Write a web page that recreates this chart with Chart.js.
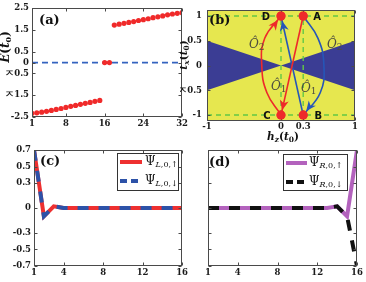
<!DOCTYPE html>
<html><head><meta charset="utf-8">
<script src="https://cdn.jsdelivr.net/npm/chart.js@4"></script>
<style>
html,body{margin:0;padding:0;background:#fff;}
#wrap{position:relative;width:366px;height:282px;overflow:hidden;background:#fff;}
canvas{position:absolute;}
</style></head><body>
<div id="wrap">
<canvas id="ca" width="190" height="140" style="left:0;top:0;width:190px;height:140px"></canvas>
<canvas id="cb" width="186" height="142" style="left:180px;top:0;width:186px;height:142px"></canvas>
<canvas id="cc" width="190" height="142" style="left:0;top:140px;width:190px;height:142px"></canvas>
<canvas id="cd" width="176" height="142" style="left:190px;top:140px;width:176px;height:142px"></canvas>
</div>
<script>
// ---------- Panel (a) data ----------
const aSites = [1,2,3,4,5,6,7,8,9,10,11,12,13,14,15,16,17,18,19,20,21,22,23,24,25,26,27,28,29,30,31,32];
const aEnergy = [-2.33,-2.31,-2.28,-2.24,-2.20,-2.15,-2.11,-2.06,-2.01,-1.97,-1.92,-1.87,-1.83,-1.78,-1.74,
                 0,0,
                 1.72,1.76,1.80,1.84,1.88,1.93,1.97,2.01,2.06,2.10,2.14,2.19,2.23,2.26,2.29];
const aZeroX = [1,32];
const aZeroY = [0,0];
const aXTicks = [1,8,16,24,32];
const aYTicks = [-2.5,-1.5,-0.5,0,0.5,1.5,2.5];
const aYTickLabels = ['-2.5','ㅈ1.5','ㅈ0.5','0','0.5','1.5','2.5'];

// ---------- Panel (b) data ----------
const bCornerNames = ['A','B','C','D'];
const bCornerH = [0.3,0.3,0,0];
const bCornerT = [1,-1,-1,1];
const bGapH = [-1,0,1];
const bGapUpper = [0.5,0,0.5];
const bGapLower = [-0.5,0,-0.5];
const bRedArcH = [0,-0.19,-0.26,-0.22,0];
const bRedArcT = [-1,-0.55,0,0.55,1];
const bBlueArcH = [0.3,0.5,0.58,0.53,0.3];
const bBlueArcT = [1,0.55,0,-0.55,-1];
const bRedLineH = [0.3,0];
const bRedLineT = [1,-1];
const bBlueLineH = [0.3,0];
const bBlueLineT = [-1,1];
const bXTicks = [-1,0,0.3,1];
const bXTickLabels = ['-1','0','0.3','1'];
const bYTicks = [-1,-0.5,0,0.5,1];
const bYTickLabels = ['-1','ㅈ0.5','0','0.5','1'];

// ---------- Panels (c),(d) data ----------
const cdSites = [1,2,3,4,5,6,7,8,9,10,11,12,13,14,15,16];
const cPsiUp   = [0.7,-0.1,0.02,0,0,0,0,0,0,0,0,0,0,0,0,0];
const cPsiDown = [0.7,-0.1,0.02,0,0,0,0,0,0,0,0,0,0,0,0,0];
const dPsiUp   = [0,0,0,0,0,0,0,0,0,0,0,0,0,0.02,-0.1,0.7];
const dPsiDown = [0,0,0,0,0,0,0,0,0,0,0,0,0,0.02,-0.1,-0.7];
const cdXTicks = [1,4,8,12,16];
const cdYTicks = [-0.7,-0.5,-0.3,0,0.3,0.5,0.7];
const cdYTickLabels = ['-0.7','-0.5','-0.3','0','0.3','0.5','0.7'];

// ---------- helpers ----------
const SERIF = '"DejaVu Serif", "Liberation Serif", serif';
const tickFont = {family: SERIF, size: 8.5, weight: 'bold'};
const pts = (xs, ys) => xs.map((x,i)=>({x:x, y:ys[i]}));

function axis(min, max, ticks, labels, fitKey, fitVal, pad, show) {
  return {
    type:'linear', min:min, max:max,
    afterBuildTicks: s => { s.ticks = ticks.map(v=>({value:v})); },
    afterFit: s => { s[fitKey] = fitVal; },
    ticks: { display: show !== false, autoSkip:false, maxRotation:0, padding:pad, color:'#1a1a1a', font:tickFont,
             callback: (v,i) => labels ? labels[i] : String(v) },
    grid: {display:false, drawTicks:false},
    border: {display:false}
  };
}

const frame = {
  id:'frame',
  afterDatasetsDraw(chart) {
    const ctx = chart.ctx, a = chart.chartArea, xs = chart.scales.x, ys = chart.scales.y;
    ctx.save();
    ctx.setLineDash([]);
    ctx.strokeStyle = '#4a4a4a'; ctx.lineWidth = 1;
    const L = Math.round(a.left)+0.5, R = Math.round(a.right)-0.5, T = Math.round(a.top)+0.5, B = Math.round(a.bottom)-0.5;
    ctx.strokeRect(L, T, R-L, B-T);
    ctx.beginPath();
    xs.ticks.forEach(t => { const p = Math.round(xs.getPixelForValue(t.value))+0.5;
      ctx.moveTo(p,B); ctx.lineTo(p,B-3); ctx.moveTo(p,T); ctx.lineTo(p,T+3); });
    ys.ticks.forEach(t => { const p = Math.round(ys.getPixelForValue(t.value))+0.5;
      ctx.moveTo(L,p); ctx.lineTo(L+3,p); ctx.moveTo(R,p); ctx.lineTo(R-3,p); });
    ctx.stroke();
    ctx.restore();
  }
};

function rich(ctx, x, y, parts, align) {
  let w = 0;
  parts.forEach(p => { ctx.font = p.f; p.w = ctx.measureText(p.t).width; w += p.w; });
  let cx = align === 'center' ? x - w/2 : x;
  parts.forEach(p => { ctx.font = p.f; ctx.fillText(p.t, cx, y + (p.dy||0)); cx += p.w; });
}
function richRot(ctx, x, y, parts) {
  ctx.save(); ctx.translate(x, y); ctx.rotate(-Math.PI/2); rich(ctx, 0, 0, parts, 'center'); ctx.restore();
}
function panelLabel(ctx, txt, x, y) {
  ctx.save(); ctx.fillStyle = '#111'; ctx.textBaseline = 'middle';
  ctx.font = 'bold 13px ' + SERIF; ctx.fillText(txt, x, y); ctx.restore();
}
const fI = (s) => 'italic bold ' + s + 'px ' + SERIF;
const fR = (s) => 'bold ' + s + 'px ' + SERIF;

function legend(ctx, box, entries) {
  ctx.save();
  ctx.fillStyle = '#fff'; ctx.fillRect(box.x, box.y, box.w, box.h);
  ctx.strokeStyle = '#333'; ctx.lineWidth = 1; ctx.setLineDash([]);
  ctx.strokeRect(box.x+0.5, box.y+0.5, box.w, box.h);
  entries.forEach(e => {
    ctx.beginPath(); ctx.strokeStyle = e.color; ctx.lineWidth = 4; ctx.setLineDash(e.dash || []);
    ctx.moveTo(e.x0, e.y); ctx.lineTo(e.x1, e.y); ctx.stroke();
    ctx.setLineDash([]);
    ctx.fillStyle = '#111'; ctx.textBaseline = 'middle';
    rich(ctx, e.tx, e.y, [
      {t:'Ψ', f:'12px ' + SERIF},
      {t:e.sub[0], f:'italic 8px ' + SERIF, dy:3},
      {t:',0,' + e.sub[1], f:'8px ' + SERIF, dy:3}
    ]);
  });
  ctx.restore();
}

Chart.defaults.animation = false;

// ---------- Chart (a) ----------
new Chart(document.getElementById('ca'), {
  type:'line',
  data:{ datasets:[
    {label:'E', data:pts(aSites, aEnergy), showLine:false, pointRadius:2.6, pointHoverRadius:2.6,
     pointBackgroundColor:'#f02a2a', pointBorderWidth:0, order:0},
    {label:'zero', data:pts(aZeroX, aZeroY), borderColor:'#3463bf', borderWidth:1.8, borderDash:[6,4],
     pointRadius:0, order:1}
  ]},
  options:{
    responsive:false, devicePixelRatio:1,
    layout:{padding:{top:7, right:7, left:0, bottom:0}},
    plugins:{legend:{display:false}, tooltip:{enabled:false}},
    scales:{
      x: axis(1, 32, aXTicks, null, 'height', 23, 2),
      y: axis(-2.5, 2.5, aYTicks, aYTickLabels, 'width', 32, 3)
    }
  },
  plugins:[frame, {id:'ta', afterDraw(chart){
    const ctx = chart.ctx;
    panelLabel(ctx, '(a)', 39, 21);
    ctx.save(); ctx.fillStyle = '#111'; ctx.textBaseline = 'middle';
    richRot(ctx, 6, 47, [{t:'E', f:fI(12)}, {t:'(', f:fR(12)}, {t:'t', f:fI(12)}, {t:'0', f:fR(8), dy:3}, {t:')', f:fR(12)}]);
    ctx.restore();
  }}]
});

// ---------- Chart (b) ----------
const RED = '#ee2a2a', BLUE = '#2656b8', GREEN = '#62c846';
const bArrows = [
  {h:bRedArcH, t:bRedArcT, c:RED},
  {h:bRedLineH, t:bRedLineT, c:RED},
  {h:bBlueArcH, t:bBlueArcT, c:BLUE},
  {h:bBlueLineH, t:bBlueLineT, c:BLUE}
];
new Chart(document.getElementById('cb'), {
  type:'line',
  data:{ datasets:[
    {label:'corners', data:pts(bCornerH, bCornerT), showLine:false, pointRadius:4.5, pointHoverRadius:4.5,
     pointBackgroundColor:RED, pointBorderWidth:0, order:0},
    {label:'redArc', data:pts(bRedArcH, bRedArcT), borderColor:RED, borderWidth:1.6, tension:0.45, pointRadius:0, order:2},
    {label:'redLine', data:pts(bRedLineH, bRedLineT), borderColor:RED, borderWidth:1.6, pointRadius:0, order:2},
    {label:'blueArc', data:pts(bBlueArcH, bBlueArcT), borderColor:BLUE, borderWidth:1.6, tension:0.45, pointRadius:0, order:3},
    {label:'blueLine', data:pts(bBlueLineH, bBlueLineT), borderColor:BLUE, borderWidth:1.6, pointRadius:0, order:3},
    {label:'g1', data:pts([-1,1],[1,1]), borderColor:GREEN, borderWidth:1.4, borderDash:[5,4], pointRadius:0, order:10},
    {label:'g2', data:pts([-1,1],[-1,-1]), borderColor:GREEN, borderWidth:1.4, borderDash:[5,4], pointRadius:0, order:10},
    {label:'g3', data:pts([0,0],[-1,1]), borderColor:GREEN, borderWidth:1.4, borderDash:[5,4], pointRadius:0, order:10},
    {label:'g4', data:pts([0.3,0.3],[-1,1]), borderColor:GREEN, borderWidth:1.4, borderDash:[5,4], pointRadius:0, order:10},
    {label:'gapUpper', data:pts(bGapH, bGapUpper), borderWidth:0, borderColor:'rgba(0,0,0,0)', pointRadius:0, order:20},
    {label:'gapLower', data:pts(bGapH, bGapLower), borderWidth:0, borderColor:'rgba(0,0,0,0)', pointRadius:0,
     fill:'-1', backgroundColor:'#3b3d94', order:19}
  ]},
  options:{
    responsive:false, devicePixelRatio:1,
    layout:{padding:{top:7, right:11, left:0, bottom:0}},
    plugins:{legend:{display:false}, tooltip:{enabled:false}, filler:{propagate:false}},
    scales:{
      x: axis(-1, 1, bXTicks, bXTickLabels, 'height', 21, 1),
      y: axis(-1.12, 1.12, bYTicks, bYTickLabels, 'width', 27, 5)
    }
  },
  plugins:[
    {id:'bg', beforeDatasetsDraw(chart){
      const a = chart.chartArea, ctx = chart.ctx;
      ctx.save(); ctx.fillStyle = '#e6e74f'; ctx.fillRect(a.left, a.top, a.right-a.left, a.bottom-a.top); ctx.restore();
    }},
    frame,
    {id:'tb', afterDraw(chart){
      const ctx = chart.ctx, xs = chart.scales.x, ys = chart.scales.y;
      // arrow heads
      bArrows.forEach(ar => {
        const n = ar.h.length;
        const ex = xs.getPixelForValue(ar.h[n-1]), ey = ys.getPixelForValue(ar.t[n-1]);
        const px = xs.getPixelForValue(ar.h[n-2]), py = ys.getPixelForValue(ar.t[n-2]);
        let dx = ex-px, dy = ey-py; const len = Math.hypot(dx,dy); dx/=len; dy/=len;
        const tx = ex - dx*5, ty = ey - dy*5;
        const bx = tx - dx*10, by = ty - dy*10;
        const nx = -dy, ny = dx;
        ctx.save(); ctx.fillStyle = ar.c; ctx.beginPath();
        ctx.moveTo(tx,ty); ctx.lineTo(bx+nx*4.5, by+ny*4.5); ctx.lineTo(tx-dx*7, ty-dy*7); ctx.lineTo(bx-nx*4.5, by-ny*4.5);
        ctx.closePath(); ctx.fill(); ctx.restore();
      });
      // redraw corner dots on top
      ctx.save(); ctx.fillStyle = RED;
      bCornerH.forEach((h,i) => { ctx.beginPath(); ctx.arc(xs.getPixelForValue(h), ys.getPixelForValue(bCornerT[i]), 4.5, 0, 2*Math.PI); ctx.fill(); });
      // corner letters
      ctx.fillStyle = '#111'; ctx.textBaseline = 'middle'; ctx.textAlign = 'center';
      ctx.font = 'bold 10px "DejaVu Sans", sans-serif';
      const off = [14, 15, -14, -15];
      bCornerNames.forEach((nm,i) => {
        ctx.fillText(nm, xs.getPixelForValue(bCornerH[i]) + off[i], ys.getPixelForValue(bCornerT[i]) + 1);
      });
      ctx.textAlign = 'left';
      // operator labels
      ctx.fillStyle = '#4d4d40';
      const op = (x, y, s) => rich(ctx, x, y, [{t:'Ô', f:'italic 12px ' + SERIF}, {t:s, f:'9px ' + SERIF, dy:3}]);
      op(69, 45, '2'); op(147, 45, '2'); op(91, 87, '1'); op(121, 89, '1');
      ctx.restore();
      // panel + axis labels
      panelLabel(ctx, '(b)', 29, 21);
      ctx.save(); ctx.fillStyle = '#111'; ctx.textBaseline = 'middle';
      richRot(ctx, 4, 55, [{t:'t', f:fI(10.5)}, {t:'x', f:fI(7.5), dy:3}, {t:'(', f:fR(10.5)}, {t:'t', f:fI(10.5)}, {t:'0', f:fR(7.5), dy:3}, {t:')', f:fR(10.5)}]);
      rich(ctx, 103, 137.5, [{t:'h', f:fI(10.5)}, {t:'z', f:fI(7.5), dy:2.5}, {t:'(', f:fR(10.5)}, {t:'t', f:fI(10.5)}, {t:'0', f:fR(7.5), dy:2.5}, {t:')', f:fR(10.5)}], 'center');
      ctx.restore();
    }}
  ]
});

// ---------- Chart (c) ----------
new Chart(document.getElementById('cc'), {
  type:'line',
  data:{ datasets:[
    {label:'Ψ L,0,↓', data:pts(cdSites, cPsiDown), borderColor:'#2d52a8', borderWidth:4, borderDash:[11,10], pointRadius:0, order:0},
    {label:'Ψ L,0,↑', data:pts(cdSites, cPsiUp), borderColor:'#ee3030', borderWidth:4, pointRadius:0, order:1}
  ]},
  options:{
    responsive:false, devicePixelRatio:1,
    layout:{padding:{top:10, right:7, left:0, bottom:0}},
    plugins:{legend:{display:false}, tooltip:{enabled:false}},
    scales:{
      x: axis(1, 16, cdXTicks, null, 'height', 16, 2),
      y: axis(-0.7, 0.7, cdYTicks, cdYTickLabels, 'width', 34, 3)
    }
  },
  plugins:[frame, {id:'tc', afterDraw(chart){
    const ctx = chart.ctx;
    panelLabel(ctx, '(c)', 40, 22);
    legend(ctx, {x:117, y:13, w:61, h:37}, [
      {color:'#ee3030', x0:120, x1:142, y:22, tx:145, sub:['L','↑']},
      {color:'#2d52a8', dash:[7,4], x0:120, x1:142, y:41, tx:145, sub:['L','↓']}
    ]);
  }}]
});

// ---------- Chart (d) ----------
new Chart(document.getElementById('cd'), {
  type:'line',
  data:{ datasets:[
    {label:'Ψ R,0,↓', data:pts(cdSites, dPsiDown), borderColor:'#111111', borderWidth:4, borderDash:[11,10], pointRadius:0, order:0},
    {label:'Ψ R,0,↑', data:pts(cdSites, dPsiUp), borderColor:'#b362bd', borderWidth:4, pointRadius:0, order:1}
  ]},
  options:{
    responsive:false, devicePixelRatio:1,
    layout:{padding:{top:10, right:9, left:0, bottom:0}},
    plugins:{legend:{display:false}, tooltip:{enabled:false}},
    scales:{
      x: axis(1, 16, cdXTicks, null, 'height', 16, 2),
      y: axis(-0.7, 0.7, cdYTicks, cdYTickLabels, 'width', 18, 3, false)
    }
  },
  plugins:[frame, {id:'td', afterDraw(chart){
    const ctx = chart.ctx;
    panelLabel(ctx, '(d)', 19, 23);
    legend(ctx, {x:93, y:14, w:64, h:36}, [
      {color:'#b362bd', x0:96, x1:117, y:23, tx:119, sub:['R','↑']},
      {color:'#111111', dash:[7,4], x0:96, x1:117, y:42, tx:119, sub:['R','↓']}
    ]);
  }}]
});
</script>
</body></html>
